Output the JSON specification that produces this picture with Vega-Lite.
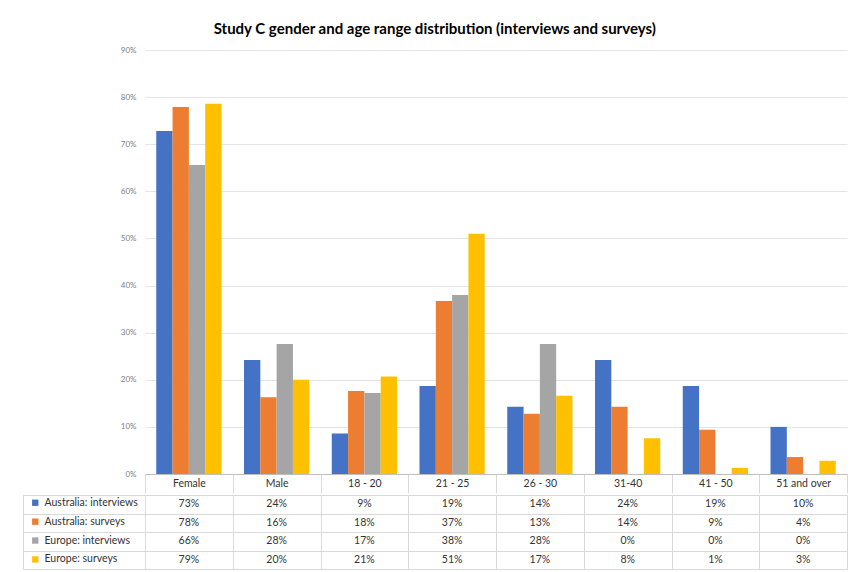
{
  "$schema": "https://vega.github.io/schema/vega-lite/v6.json",
  "background": "white",
  "padding": {"left": 22, "top": 22, "right": 6, "bottom": 2},
  "title": {"text": "Study C gender and age range distribution (interviews and surveys)", "font": "Lato", "fontSize": 15, "fontWeight": "bold", "color": "#000000", "anchor": "middle", "offset": 9},
  "datasets": {
    "d": [
      {"category": "Female", "series": "Australia: interviews", "value": 0.728},
      {"category": "Female", "series": "Australia: surveys", "value": 0.779},
      {"category": "Female", "series": "Europe: interviews", "value": 0.656},
      {"category": "Female", "series": "Europe: surveys", "value": 0.786},
      {"category": "Male", "series": "Australia: interviews", "value": 0.242},
      {"category": "Male", "series": "Australia: surveys", "value": 0.163},
      {"category": "Male", "series": "Europe: interviews", "value": 0.276},
      {"category": "Male", "series": "Europe: surveys", "value": 0.2},
      {"category": "18 - 20", "series": "Australia: interviews", "value": 0.086},
      {"category": "18 - 20", "series": "Australia: surveys", "value": 0.176},
      {"category": "18 - 20", "series": "Europe: interviews", "value": 0.172},
      {"category": "18 - 20", "series": "Europe: surveys", "value": 0.207},
      {"category": "21 - 25", "series": "Australia: interviews", "value": 0.187},
      {"category": "21 - 25", "series": "Australia: surveys", "value": 0.367},
      {"category": "21 - 25", "series": "Europe: interviews", "value": 0.38},
      {"category": "21 - 25", "series": "Europe: surveys", "value": 0.51},
      {"category": "26 - 30", "series": "Australia: interviews", "value": 0.143},
      {"category": "26 - 30", "series": "Australia: surveys", "value": 0.128},
      {"category": "26 - 30", "series": "Europe: interviews", "value": 0.276},
      {"category": "26 - 30", "series": "Europe: surveys", "value": 0.166},
      {"category": "31-40", "series": "Australia: interviews", "value": 0.242},
      {"category": "31-40", "series": "Australia: surveys", "value": 0.143},
      {"category": "31-40", "series": "Europe: interviews", "value": 0},
      {"category": "31-40", "series": "Europe: surveys", "value": 0.076},
      {"category": "41 - 50", "series": "Australia: interviews", "value": 0.187},
      {"category": "41 - 50", "series": "Australia: surveys", "value": 0.094},
      {"category": "41 - 50", "series": "Europe: interviews", "value": 0},
      {"category": "41 - 50", "series": "Europe: surveys", "value": 0.013},
      {"category": "51 and over", "series": "Australia: interviews", "value": 0.1},
      {"category": "51 and over", "series": "Australia: surveys", "value": 0.036},
      {"category": "51 and over", "series": "Europe: interviews", "value": 0},
      {"category": "51 and over", "series": "Europe: surveys", "value": 0.028}
    ]
  },
  "spacing": 0,
  "resolve": {"scale": {"x": "shared", "color": "shared"}},
  "vconcat": [
    {
      "width": 702,
      "height": 424,
      "data": {"name": "d"},
      "mark": {"type": "bar"},
      "view": {"stroke": null},
      "encoding": {
        "x": {
          "field": "category", "type": "nominal",
          "sort": ["Female", "Male", "18 - 20", "21 - 25", "26 - 30", "31-40", "41 - 50", "51 and over"],
          "scale": {"paddingInner": 0, "paddingOuter": 0},
          "axis": {"title": null, "labelAngle": 0, "labelFont": "Lato", "labelFontSize": 10.5, "labelColor": "#333333", "labelBaseline": "middle", "labelPadding": -9.5, "tickSize": 19, "tickBand": "extent", "tickColor": "#d9d9d9", "domainColor": "#bfbfbf", "grid": false}
        },
        "xOffset": {
          "field": "series", "type": "nominal",
          "sort": ["Australia: interviews", "Australia: surveys", "Europe: interviews", "Europe: surveys"],
          "scale": {"paddingInner": 0, "paddingOuter": 0.69}
        },
        "y": {
          "field": "value", "type": "quantitative",
          "scale": {"domain": [0, 0.9]},
          "axis": {"title": null, "format": ".0%", "values": [0, 0.1, 0.2, 0.3, 0.4, 0.5, 0.6, 0.7, 0.8, 0.9], "labelFont": "Lato", "labelFontSize": 8, "labelColor": "#808080", "labelPadding": 9, "ticks": false, "domain": false, "gridColor": "#e4e4e4"}
        },
        "color": {
          "field": "series", "type": "nominal",
          "sort": ["Australia: interviews", "Australia: surveys", "Europe: interviews", "Europe: surveys"],
          "scale": {"range": ["#4472C4", "#ED7D31", "#A5A5A5", "#FFC000"]},
          "legend": {"title": null, "orient": "none", "legendX": -115, "legendY": 447.5, "symbolType": "square", "symbolSize": 40, "symbolStrokeWidth": 0, "labelFont": "Lato", "labelFontSize": 10.5, "labelColor": "#333333", "labelOffset": 4, "rowPadding": 7.9, "padding": 0}
        }
      }
    },
    {
      "width": 702,
      "height": 74,
      "data": {"name": "d"},
      "mark": {"type": "text", "font": "Lato", "fontSize": 10.5, "color": "#333333"},
      "view": {"stroke": "#d9d9d9"},
      "encoding": {
        "x": {
          "field": "category", "type": "nominal",
          "sort": ["Female", "Male", "18 - 20", "21 - 25", "26 - 30", "31-40", "41 - 50", "51 and over"],
          "axis": {"title": null, "labels": false, "ticks": false, "domain": false, "grid": true, "tickBand": "extent", "gridColor": "#d9d9d9"}
        },
        "y": {
          "field": "series", "type": "nominal",
          "sort": ["Australia: interviews", "Australia: surveys", "Europe: interviews", "Europe: surveys"],
          "scale": {"paddingInner": 0, "paddingOuter": 0},
          "axis": {"title": null, "labels": false, "offset": 122, "domain": true, "domainColor": "#d9d9d9", "ticks": true, "tickSize": -122, "tickBand": "extent", "tickColor": "#d9d9d9", "grid": true, "gridColor": "#d9d9d9"}
        },
        "text": {"field": "value", "type": "quantitative", "format": ".0%"}
      }
    }
  ]
}
